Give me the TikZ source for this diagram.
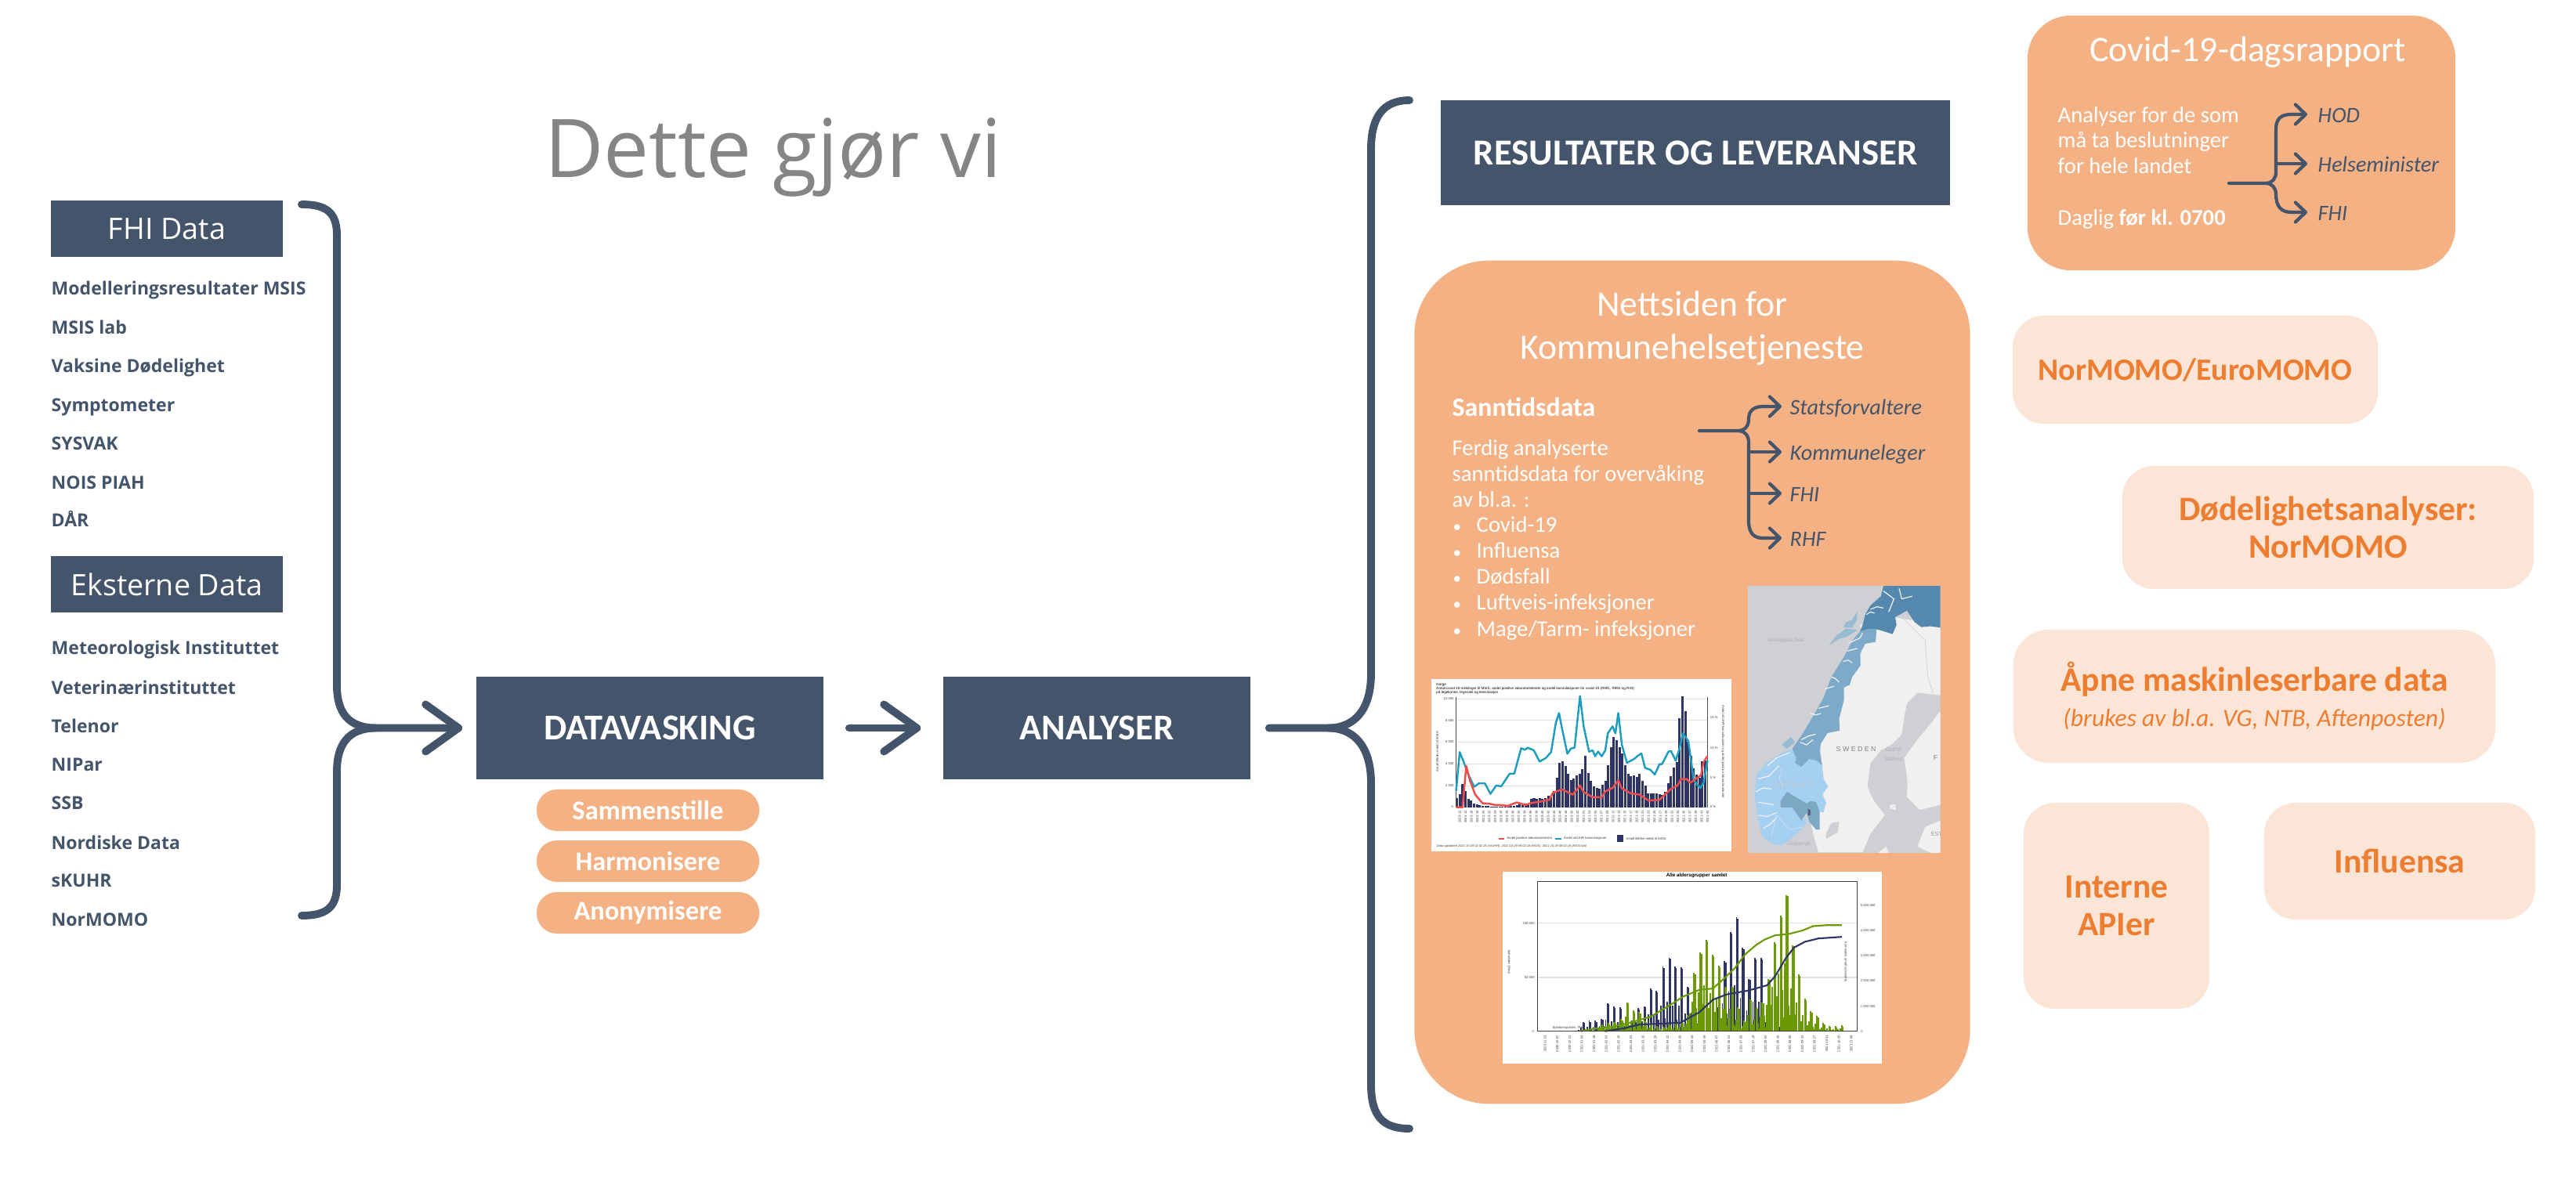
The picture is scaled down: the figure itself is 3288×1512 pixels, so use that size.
\documentclass[tikz,border=0pt]{standalone}
\usepackage{fontspec}
\setmainfont{Carlito}
\newfontfamily\headfont{Open Sans}
\newfontfamily\chartfont{Liberation Sans}
\usetikzlibrary{arrows.meta, calc}
\definecolor{fhinavy}{HTML}{44546A}
\definecolor{fhiorange}{HTML}{F4B183}
\definecolor{fhipale}{HTML}{FBE5D6}
\definecolor{fhiink}{HTML}{ED7D31}
\definecolor{barnavy}{HTML}{2E3464}
\definecolor{linecyan}{HTML}{1F9DBF}
\definecolor{linered}{HTML}{F04C4C}
\definecolor{vaxgreen}{HTML}{6A9A00}
\definecolor{seagray}{HTML}{CFD0D4}
\definecolor{landgray}{HTML}{F0F0F0}
\definecolor{mapdark}{HTML}{5488AE}
\definecolor{mapmid}{HTML}{7DAAC8}
\definecolor{maplight}{HTML}{A6D0F0}
\definecolor{maposlo}{HTML}{7DA8C4}
\tikzset{
    navybox/.style={fill=fhinavy, text=white, inner sep=0pt},
    headbox/.style={navybox, font=\headfont\fontsize{10.7}{12}\selectfont, minimum width=29.6mm, minimum height=7.1mm},
    listitem/.style={anchor=west, inner sep=0pt, text=fhinavy, font=\headfont\bfseries\fontsize{6.55}{7}\selectfont, text height=1.6ex, text depth=0.3ex},
    pillbox/.style={fill=fhiorange, text=white, inner sep=0pt, rounded corners=2.6mm, minimum width=28.4mm, minimum height=5.3mm, font=\bfseries\fontsize{9.8}{10}\selectfont},
    softbox/.style={fill=fhipale, text=fhiink, inner sep=0pt, align=center, font=\bfseries\fontsize{12.4}{13.7}\selectfont},
    bodyline/.style={anchor=west, inner sep=0pt, text=white, font=\fontsize{8.15}{9.4}\selectfont, text height=1.6ex, text depth=0.4ex},
    targetlabel/.style={anchor=west, inner sep=0pt, text=fhinavy, font=\itshape\fontsize{8}{9.4}\selectfont, text height=1.6ex, text depth=0.4ex},
    bigflow/.style={fhinavy, line width=2.8pt, line cap=round, -{Straight Barb[length=4.2mm,width=6mm,round]}},
    bigbrace/.style={fhinavy, line width=2.8pt, line cap=round},
    smallflow/.style={fhinavy, line width=1.2pt, line cap=round, -{Straight Barb[length=1.3mm,width=2.5mm,round]}},
    tinytext/.style={font=\chartfont\fontsize{1.2}{1.5}\selectfont, inner sep=0pt, text=black!75},
    maptext/.style={font=\chartfont\itshape\fontsize{1.9}{3.4}\selectfont, inner sep=0pt, align=center},
    fjord/.style={landgray, line width=0.35pt, line join=round},
}
\begin{document}
\begin{tikzpicture}[x=0.01cm, y=-0.01cm]
\useasboundingbox (0,0) rectangle (3288,1512);

% Title
\node[text=black!48, inner sep=0pt, font=\headfont\fontsize{29.4}{34}\selectfont] (title) at (987,201) {Dette gjør vi};

% Data sources
\node[headbox] (fhidata) at (213,292) {FHI Data};
\foreach \y/\t [count=\i] in {366/Modelleringsresultater MSIS, 416/MSIS lab, 465/Vaksine Dødelighet, 515/Symptometer, 564/SYSVAK, 614/NOIS PIAH, 662/DÅR} {
    \node[listitem] (fhi\i) at (65,\y) {\t};
}
\node[headbox] (eksdata) at (213,746) {Eksterne Data};
\foreach \y/\t [count=\i] in {825/Meteorologisk Instituttet, 876/Veterinærinstituttet, 925/Telenor, 974/NIPar, 1023/SSB, 1074/Nordiske Data, 1122/sKUHR, 1172/NorMOMO} {
    \node[listitem] (eks\i) at (65,\y) {\t};
}

% Process boxes
\node[navybox, minimum width=44.3mm, minimum height=13.1mm, font=\bfseries\fontsize{13.2}{14}\selectfont] (datavask) at (829.5,929.5) {DATAVASKING};
\node[navybox, minimum width=39.2mm, minimum height=13.1mm, font=\bfseries\fontsize{13.2}{14}\selectfont] (analyser) at (1400,929.5) {ANALYSER};
\node[pillbox] (pill1) at (827,1034.5) {Sammenstille};
\node[pillbox] (pill2) at (827,1099.5) {Harmonisere};
\node[pillbox] (pill3) at (827,1165.5) {Anonymisere};

% Left brace into datavask
\coordinate (srcTop) at (385,261);
\coordinate (srcBot) at (385,1169);
\draw[bigbrace] (srcBot) .. controls (415,1169) and (430,1160) .. (430,1130) -- (430,985) .. controls (430,950) and (445,929.5) .. (480,929.5);
\draw[bigflow, shorten >=1.7mm] (srcTop) .. controls (415,261) and (430,270) .. (430,300) -- (430,875) .. controls (430,910) and (445,929.5) .. (480,929.5) -- (datavask.west);

% Arrow between boxes
\draw[bigflow, shorten <=3.2mm, shorten >=2.8mm] (datavask.east) -- (analyser.west);

% Right brace out of analyser
\coordinate (resTop) at (1799,128);
\coordinate (resBot) at (1799,1441);
\draw[bigbrace, shorten <=2.3mm] (analyser.east) -- (1695,929.5) .. controls (1730,929.5) and (1750,905) .. (1750,860) -- (1750,190) .. controls (1750,150) and (1765,128) .. (resTop);
\draw[bigbrace] (1695,929.5) .. controls (1730,929.5) and (1750,955) .. (1750,1000) -- (1750,1385) .. controls (1750,1425) and (1765,1441) .. (resBot);

\node[navybox, minimum width=65mm, minimum height=13.4mm, font=\bfseries\fontsize{13.3}{14}\selectfont] (resultater) at (2164,195) {RESULTATER OG LEVERANSER};

% Website panel
\node[fill=fhiorange, rounded corners=9.5mm, minimum width=70.9mm, minimum height=107.6mm, inner sep=0pt] (nettside) at (2160,871) {};
\node[text=white, inner sep=0pt, align=center, font=\fontsize{13}{15.6}\selectfont] (nettitle) at (2160,419) {Nettsiden for\\Kommunehelsetjeneste};
\node[bodyline, font=\bfseries\fontsize{9.6}{11}\selectfont] (sanntid) at (1853,521) {Sanntidsdata};
\foreach \y/\t [count=\i] in {571/Ferdig analyserte, 604/sanntidsdata for overvåking, 637/av bl.a. :} {
    \node[bodyline] (body\i) at (1853,\y) {\t};
}
\foreach \y/\t [count=\i] in {669/Covid-19, 702/Influensa, 735/Dødsfall, 768/Luftveis-infeksjoner, 802/{Mage/Tarm- infeksjoner}} {
    \node[bodyline, font=\fontsize{6}{7}\selectfont] (bullet\i) at (1854,\y) {•};
    \node[bodyline] (item\i) at (1884,\y) {\t};
}

% Website receivers
\coordinate (webOut) at (2169,550);
\node[targetlabel] (statsf) at (2284,519) {Statsforvaltere};
\node[targetlabel] (kommune) at (2284,577) {Kommuneleger};
\node[targetlabel] (webfhi) at (2284,630) {FHI};
\node[targetlabel] (rhf) at (2284,687) {RHF};
\draw[smallflow, shorten >=1mm] (webOut) -- (2218,550) .. controls (2228,550) and (2232,543) .. (2232,535) .. controls (2232,525) and (2238,519) .. (2250,519) -- (statsf.west);
\draw[smallflow, shorten >=1mm] (2218,550) .. controls (2228,550) and (2232,557) .. (2232,565) -- (2232,665) .. controls (2232,680) and (2238,687) .. (2250,687) -- (rhf.west);
\draw[smallflow, shorten >=1mm] (2232,577) -- (kommune.west);
\draw[smallflow, shorten >=1mm] (2232,630) -- (webfhi.west);

% Norway map
\begin{scope}[shift={(2231,748)}, x=0.003333cm, y=-0.003333cm]
    \clip (0,0) rectangle (738,1024);
    \fill[seagray] (0,0) rectangle (738,1024);
    % Sweden and Finland
    \fill[landgray] (430,150) -- (560,120) -- (738,150) -- (738,420) -- (650,410) -- (610,450) -- (600,500) -- (590,570) -- (550,610) -- (510,630) -- (470,680) -- (458,770) -- (480,820) -- (525,880) -- (470,950) -- (440,1022) -- (270,1022) -- (250,950) -- (240,900) -- (290,800) -- (285,690) -- (275,600) -- (340,520) -- (370,380) -- (430,290) -- (440,220) -- cycle;
    \fill[landgray] (738,480) -- (700,530) -- (650,590) -- (600,660) -- (612,750) -- (610,810) -- (660,860) -- (738,840) -- cycle;
    \fill[landgray] (738,900) -- (680,925) -- (650,1000) -- (700,1024) -- (738,1024) -- cycle;
    \fill[landgray] (545,840) -- (565,838) -- (568,860) -- (545,855) -- cycle;
    \fill[landgray] (500,1024) -- (530,1000) -- (540,1024) -- cycle;
    \fill[seagray] (300,950) -- (320,910) -- (350,905) -- (345,945) -- (300,970) -- cycle;
    \draw[black!18, line width=0.2pt] (590,120) -- (680,210) -- (690,350) -- (710,410);
    % counties
    \fill[mapdark] (520,0) -- (738,0) -- (738,160) -- (700,155) -- (665,158) -- (640,140) -- (610,95) -- (565,120) -- (570,150) -- (555,185) -- (500,168) -- (465,165) -- (430,175) -- (440,150) -- (450,110) -- (470,75) -- (510,40) -- cycle;
    \fill[mapmid] (430,175) -- (465,165) -- (493,165) -- (490,215) -- (450,222) -- (430,260) -- (432,305) -- (400,350) -- (390,380) -- (368,390) -- (368,440) -- (350,510) -- (352,555) -- (305,565) -- (280,605) -- (275,635) -- (285,690) -- (262,670) -- (235,665) -- (205,695) -- (180,680) -- (170,625) -- (205,575) -- (250,500) -- (290,430) -- (320,350) -- (370,270) -- (400,210) -- cycle;
    \fill[maplight] (170,625) -- (185,660) -- (180,680) -- (205,695) -- (235,665) -- (262,670) -- (285,690) -- (290,740) -- (308,770) -- (285,800) -- (300,830) -- (290,870) -- (275,865) -- (262,830) -- (240,825) -- (225,835) -- (150,790) -- (125,825) -- (125,850) -- (170,850) -- (205,900) -- (222,890) -- (225,910) -- (180,960) -- (130,995) -- (90,990) -- (55,960) -- (40,900) -- (25,800) -- (35,720) -- (70,680) -- (130,640) -- cycle;
    \fill[maposlo] (150,790) -- (225,835) -- (240,825) -- (262,830) -- (275,865) -- (275,935) -- (262,935) -- (235,905) -- (225,870) -- (205,900) -- (170,850) -- (125,850) -- (125,825) -- cycle;
    \fill[barnavy!80] (230,855) -- (240,860) -- (240,880) -- (230,880) -- cycle;
    % islands
    \fill[mapmid!80] (310,230) -- (340,190) -- (375,165) -- (420,170) -- (380,195) -- (345,205) -- cycle;
    \fill[mapmid!80] (400,130) -- (420,98) -- (418,130) -- (400,160) -- (365,160) -- (375,140) -- cycle;
    \fill[mapmid!80] (130,610) -- (165,580) -- (180,600) -- (150,625) -- cycle;
    % fjords
    \foreach \a/\b/\c/\d/\e/\f in {520/20/560/50/540/100, 580/10/590/50/630/40, 470/90/495/80/520/85, 455/110/470/100/485/105, 385/220/430/200/440/180, 380/250/400/245/420/240, 365/290/385/285/400/295, 320/350/335/355/350/370, 295/395/315/390/330/385, 270/470/290/465/310/460, 240/490/260/495/280/490, 205/590/235/575/260/570, 200/600/225/610/250/590, 75/690/110/660/160/640, 40/740/80/730/120/690, 30/790/60/775/90/780, 40/830/70/835/100/840, 40/880/75/885/110/870, 60/930/85/915/110/890} {
        \draw[fjord] (\a,\b) -- (\c,\d) -- (\e,\f);
    }
    \draw[maplight!60!white, line width=0.2pt] (130,700) -- (120,740) -- (135,770) (90,960) -- (110,880) -- (160,935) -- (210,925);
    \node[maptext, text=black!32] (mapsea) at (145,209) {Norwegian Sea};
    \node[maptext, text=black!50, font=\chartfont\fontsize{2.5}{3}\selectfont] (mapswe) at (415,627) {S W E D E N};
    \node[maptext, text=black!32] (mapgulf) at (558,645) {Gulf of\\Bothnia};
    \node[maptext, text=black!30] (mapskag) at (195,992) {Skagerrak};
    \node[maptext, text=black!50, font=\chartfont\fontsize{2.5}{3}\selectfont] (mapfin) at (720,660) {F};
    \node[maptext, text=black!40, font=\chartfont\fontsize{2.1}{3}\selectfont] (mapest) at (724,953) {EST};
    \node[maptext, text=black!22, font=\chartfont\fontsize{2.4}{3}\selectfont] (mapnor) at (170,765) {N O R W A Y};
\end{scope}

% Weekly chart
\fill[white] (1827,867) rectangle (2210,1087);
\begin{scope}[shift={(1800,740)}, x=0.00461cm, y=-0.00333cm]
    \foreach \y in {457,540,623,707,790} {
        \draw[black!12, line width=0.2pt] (127,\y) -- (823,\y);
    }
    \foreach \h [count=\i] in {0.85,1.2,2.1,1.5,0.75,0.6,0.35,0.25,0.15,0.1,0.08,0.08,0.05,0.05,0.05,0.05,0.05,0.05,0.06,0.08,0.1,0.2,0.35,0.3,0.3,0.35,0.75,0.8,0.75,0.8,0.75,0.8,1.05,0.9,1.45,2.7,4.1,4.2,3.8,3.05,2.5,2.65,2.9,3.1,3.5,4.75,3.15,2.4,1.9,1.8,1.7,2.05,2.45,3.9,5.5,6.5,6.2,5.5,4.95,3.9,3.05,2.85,2.95,2.75,3.1,2.4,2.0,1.25,1.25,1.25,1.3,1.2,1.1,1.4,2.2,2.85,3.65,4.15,8.2,10.2,8.85,6.0,4.7,3.6,3.0,2.7,4.2,4.3} {
        \fill[barnavy] ({126+(\i-1)*7.9},873) rectangle ++(6.6,{-\h*41.6});
    }
    \draw[black!70, line width=0.2pt] (127,450) -- (127,873) (823,450) -- (823,873);
    \draw[linecyan, line width=0.7pt, line join=round] plot coordinates {(127,810) (137,662) (148,700) (160,745) (177,795) (190,782) (207,782) (222,822) (238,790) (252,793) (275,745) (288,745) (307,647) (318,653) (325,645) (342,655) (358,698) (375,685) (390,662) (403,550) (412,512) (420,570) (435,668) (445,648) (455,645) (470,447) (480,562) (495,660) (505,655) (512,678) (520,660) (530,678) (540,655) (547,590) (560,563) (568,590) (576,512) (586,635) (600,703) (620,688) (630,676) (640,667) (650,722) (665,730) (677,748) (690,708) (697,708) (715,660) (722,658) (735,695) (745,650) (755,590) (770,620) (785,770) (803,800) (812,780) (823,695)};
    \draw[linered, line width=0.7pt, line join=round] plot coordinates {(127,873) (145,873) (155,715) (165,770) (180,825) (200,858) (220,860) (235,865) (250,865) (270,868) (295,855) (320,865) (335,857) (360,852) (385,845) (395,818) (420,805) (450,825) (470,790) (480,815) (505,835) (530,835) (540,812) (560,800) (576,770) (585,800) (610,820) (635,825) (660,848) (690,845) (720,805) (740,790) (750,765) (765,765) (775,780) (790,765) (805,750) (812,700) (823,677)};
    \node[tinytext, anchor=north west, align=left, text=black, font=\chartfont\fontsize{1.3}{1.45}\selectfont] (c1title) at (71,396) {Norge\\Antall covid-19 meldinger til MSIS, andel positive laboratorietester og andel konsultasjoner for covid-19 (R991, R992 og R33)\\på legekontor, legevakt og testsstasjon};
    \foreach \y/\t [count=\i] in {457/10 000, 540/8 000, 623/6 000, 707/4 000, 790/2 000, 873/0} {
        \node[tinytext, anchor=east] (c1left\i) at (122,\y) {\t};
    }
    \foreach \y/\t [count=\i] in {530/15 \%, 645/10 \%, 760/5 \%, 873/0 \%} {
        \node[tinytext, anchor=west] (c1right\i) at (829,\y) {\t};
    }
    \node[tinytext, rotate=90] (c1ylab) at (75,660) {Antall tilfeller meldt til MSIS};
    \node[tinytext, rotate=-90] (c1ylab2) at (866,660) {Andel sKUHR konsultasjoner og andel positive laboratorietester};
    \foreach \t [count=\i] in {2020-12,2020-14,2020-16,2020-18,2020-20,2020-22,2020-24,2020-26,2020-28,2020-30,2020-32,2020-34,2020-36,2020-38,2020-40,2020-42,2020-44,2020-46,2020-48,2020-50,2020-52,2021-01,2021-03,2021-05,2021-07,2021-09,2021-11,2021-13,2021-15,2021-17,2021-19,2021-21,2021-23,2021-25,2021-27,2021-29,2021-31,2021-33,2021-35,2021-37,2021-39,2021-41,2021-43} {
        \node[tinytext, rotate=90, anchor=east] (c1x\i) at ({137+(\i-1)*16.33},885) {\t};
    }
    \draw[linered, line width=0.6pt] (245,994) -- (260,994);
    \node[tinytext, anchor=west] (c1leg1) at (266,994) {Andel positive laboratorietester};
    \draw[linecyan, line width=0.6pt] (402,994) -- (418,994);
    \node[tinytext, anchor=west] (c1leg2) at (424,994) {Andel sKUHR konsultasjoner};
    \fill[barnavy] (572,981) rectangle (590,1007);
    \node[tinytext, anchor=west] (c1leg3) at (596,994) {Antall tilfeller meldt til MSIS};
    \node[tinytext, anchor=west, font=\chartfont\itshape\fontsize{1.12}{1.5}\selectfont] (c1date) at (72,1022) {Data oppdatert 2021-10-29 02:02:25 (sKUHR), 2021-10-29 09:02:18 (MSIS), 2021-10-29 09:02:18 (MSIS lab)};
\end{scope}

% Vaccine chart
\fill[white] (1918,1113) rectangle (2402,1358);
\begin{scope}[shift={(1900,1100)}, x=0.00345cm, y=-0.00333cm]
    \draw[black!12, line width=0.5pt] (181,236) -- (1363,236) (181,444) -- (1363,444);
    \foreach \x/\t in {350/615,372/610,395/610,418/603,441/543,464/556,486/560,510/600,531/610,553/562,576/555,599/487,620/497,645/404,668/369,690/404,713/407,736/480,758/475,781/575,805/590,828/430,850/560,873/382,896/270,917/213,940/330,963/450,986/370,1008/370,1030/560,1058/600,1085/605} {
        \draw[barnavy, line width=0.5pt] (\x,651) -- (\x,\t) ({\x+4},651) -- ({\x+4},{\t+5}) ({\x-8},651) -- ({\x-8},{651-0.4*(651-\t)}) ({\x-16},651) -- ({\x-16},{651-0.18*(651-\t)});
    }
    \foreach \x/\t in {420/625,443/620,465/615,490/605,513/540,535/572,557/578,578/610,600/620,622/630,645/633,668/625,692/620,715/615,737/590,760/427,783/350,805/300,828/358,851/400,875/480,900/480,922/560,945/610,967/528,990/560,1012/540,1035/450,1057/310,1080/207,1102/128,1125/320,1147/433,1170/527,1192/575,1215/592,1238/620,1260/630,1283/632,1307/628} {
        \draw[vaxgreen, line width=0.6pt] (\x,651) -- (\x,\t) ({\x+4},651) -- ({\x+4},{\t+5}) ({\x-7},651) -- ({\x-7},{651-0.5*(651-\t)}) ({\x-14},651) -- ({\x-14},{651-0.3*(651-\t)}) ({\x+10},651) -- ({\x+10},{651-0.12*(651-\t)});
    }
    \draw[vaxgreen, line width=0.6pt] plot coordinates {(340,651) (400,640) (450,635) (500,625) (560,607) (600,595) (640,570) (680,545) (720,518) (780,492) (830,487) (870,450) (910,410) (950,355) (990,320) (1020,300) (1060,283) (1110,278) (1160,265) (1200,248) (1250,244) (1307,244)};
    \draw[barnavy, line width=0.6pt] plot coordinates {(430,651) (500,640) (560,625) (640,622) (710,618) (780,578) (830,530) (880,510) (960,495) (1030,475) (1060,440) (1100,370) (1130,330) (1170,308) (1220,295) (1307,289)};
    \draw[black!75, line width=0.3pt] (181,77) rectangle (1363,651);
    \node[tinytext, text=black, font=\chartfont\bfseries\fontsize{1.8}{2}\selectfont] (c2title) at (770,55) {Alle aldersgrupper samlet};
    \foreach \y/\t [count=\i] in {236/100 000, 444/50 000, 651/0} {
        \node[tinytext, anchor=east] (c2left\i) at (172,\y) {\t};
    }
    \foreach \y/\t [count=\i] in {167/5 000 000, 264/4 000 000, 361/3 000 000, 458/2 000 000, 555/1 000 000, 651/0} {
        \node[tinytext, anchor=west] (c2right\i) at (1374,\y) {\t};
    }
    \node[tinytext, rotate=90] (c2ylab) at (75,385) {Antall vaksinerte};
    \node[tinytext, rotate=-90] (c2ylab2) at (1322,385) {Kumulativt antall vaksinerte};
    \node[tinytext] (c2src) at (293,638) {Sykdomspulsen, FHI};
    \foreach \t [count=\i] in {2020-11-23,2020-12-07,2020-12-21,2021-01-04,2021-01-18,2021-02-01,2021-02-15,2021-03-01,2021-03-15,2021-03-29,2021-04-12,2021-04-26,2021-05-10,2021-05-24,2021-06-07,2021-06-21,2021-07-05,2021-07-19,2021-08-02,2021-08-16,2021-08-30,2021-09-13,2021-09-27,2021-10-11,2021-10-25,2021-11-08} {
        \node[tinytext, rotate=90, anchor=east] (c2x\i) at ({209+(\i-1)*45.3},664) {\t};
    }
\end{scope}

% Daily report
\node[fill=fhiorange, rounded corners=5.5mm, minimum width=54.6mm, minimum height=32.5mm, inner sep=0pt] (covid) at (2861,182.5) {};
\node[text=white, inner sep=0pt, font=\fontsize{13}{15}\selectfont] (covidtitle) at (2869,67) {Covid-19-dagsrapport};
\foreach \y/\t [count=\i] in {146/Analyser for de som, 178/må ta beslutninger, 211/for hele landet, 277/Daglig \textbf{før kl. 0700}} {
    \node[bodyline] (cov\i) at (2626,\y) {\t};
}
\coordinate (covOut) at (2845,234);
\node[targetlabel] (hod) at (2958,146) {HOD};
\node[targetlabel] (helsemin) at (2958,209) {Helseminister};
\node[targetlabel] (covfhi) at (2958,271) {FHI};
\draw[smallflow, shorten >=1.3mm] (covOut) -- (2892,234) .. controls (2900,234) and (2905,228) .. (2905,220) -- (2905,165) .. controls (2905,152) and (2911,146) .. (2925,146) -- (hod.west);
\draw[smallflow, shorten >=1.3mm] (2892,234) .. controls (2900,234) and (2905,240) .. (2905,248) .. controls (2905,263) and (2911,271) .. (2925,271) -- (covfhi.west);
\draw[smallflow, shorten >=1.3mm] (2905,209) -- (helsemin.west);

% Other deliveries
\node[softbox, rounded corners=4mm, minimum width=46.6mm, minimum height=13.8mm, font=\bfseries\fontsize{11.3}{13.7}\selectfont] (normomo) at (2802,472) {NorMOMO/EuroMOMO};
\node[softbox, rounded corners=4mm, minimum width=52.5mm, minimum height=15.7mm] (dodelig) at (2971.5,673.5) {Dødelighetsanalyser:\\NorMOMO};
\node[softbox, rounded corners=4.5mm, minimum width=61.5mm, minimum height=17mm] (aapne) at (2877.5,889) {Åpne maskinleserbare data\\[-1pt]{\mdseries\itshape\fontsize{9}{10}\selectfont (brukes av bl.a. VG, NTB, Aftenposten)}};
\node[softbox, rounded corners=4mm, minimum width=23.7mm, minimum height=26.3mm] (interne) at (2701.5,1156.5) {Interne\\APIer};
\node[softbox, rounded corners=4mm, minimum width=34.6mm, minimum height=14.9mm] (influensa) at (3063,1099.5) {Influensa};

\end{tikzpicture}
\end{document}
